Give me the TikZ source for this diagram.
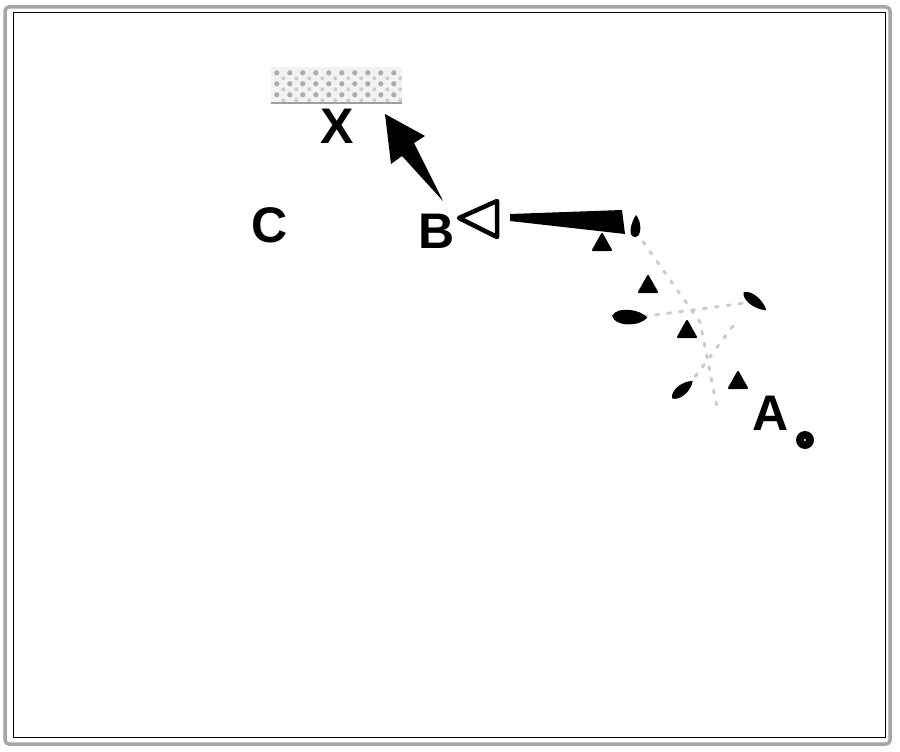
\documentclass[tikz,border=0pt]{standalone}
\usepackage{fontspec}
\setsansfont{Liberation Sans}
\usetikzlibrary{patterns,arrows.meta,calc}
\begin{document}
\begin{tikzpicture}[x=1pt,y=-1pt,
  lbl/.style={font=\sffamily\bfseries\fontsize{50}{50}\selectfont, inner sep=0pt},
  tri/.style={fill=black, draw=black, line width=2pt, line join=round},
  faint/.style={draw=gray!40, line width=3pt, dash pattern=on 3pt off 9pt, line cap=round},
  drop/.style={fill=black}]
\useasboundingbox (0,0) rectangle (900,752);
% frames
\draw[gray!70, line width=3.5pt, rounded corners=4pt] (5,7) rectangle (890,744);
\draw[black, line width=1pt] (13,13) rectangle (885,737);
% ceiling
\node[minimum width=131pt, minimum height=36pt, inner sep=0pt, fill=gray!10] (ceil) at (336.5,85) {};
\begin{scope}
\clip (ceil.south west) rectangle (ceil.north east);
\foreach \i in {0,...,10}{
  \foreach \j in {0,...,3}{
    \fill[gray!65] ($(ceil.north west)+(6+13*\i,6+11*\j)$) circle (2.6pt);
    \fill[gray!40] ($(ceil.north west)+(12.5+13*\i,11.5+11*\j)$) circle (2pt);
  }
}
\end{scope}
\draw[gray!75, line width=2pt] (ceil.south west) -- (ceil.south east);
% labels
\node[lbl] (X) at (337,126) {X};
\node[lbl] (C) at (270,225) {C};
\node[lbl] (B) at (437,231) {B};
\node[lbl] (A) at (771,413) {A};
% arrow B -> ceiling
\coordinate (t1) at (443,201);
\coordinate (h1) at (385,114);
\fill[black, line join=round] (h1) -- (425,136) -- (414,143) -- (t1) -- (402,156) -- (391,164) -- cycle;
% open arrow toward B
\coordinate (h2) at (459,218);
\draw[black, line width=4.5pt, line join=round, fill=white] (h2) -- (497,201) -- (497,237) -- cycle;
\fill[black, line join=round] (510,214) -- (622,210) -- (625,234) -- (510,221) -- cycle;
% faint dotted lines
\coordinate (c0) at (700,322);
\draw[faint] (636,232) -- (c0) -- (718,412);
\draw[faint] (632,318) -- (753,302);
\draw[faint] (688,386) -- (736,322);
% drops
\fill[drop] (636,215) .. controls (642,222) and (642,237) .. (635,237) .. controls (628,237) and (630,224) .. (636,215) -- cycle;
\fill[drop, rotate around={-8:(628,318)}] (612,318) .. controls (616,307) and (640,308) .. (647,315) .. controls (641,325) and (616,329) .. (612,318) -- cycle;
\fill[drop, rotate around={-40:(755,302)}] (740,302) .. controls (744,295) and (760,295) .. (769,301) .. controls (760,308) and (744,309) .. (740,302) -- cycle;
\fill[drop, rotate around={40:(682,390)}] (669,390) .. controls (673,383) and (688,383) .. (696,390) .. controls (688,397) and (673,397) .. (669,390) -- cycle;
% triangles
\foreach \n/\p in {a/{602,243}, b/{648,285}, c/{687,330}, d/{738,381}}{
  \coordinate (T\n) at (\p);
  \draw[tri] ($(T\n)+(0,-9)$) -- ($(T\n)+(9,7)$) -- ($(T\n)+(-9,7)$) -- cycle;
}
% point at A
\node[circle, fill=black, minimum size=18pt, inner sep=0pt] (pA) at (805,440) {};
\fill[white] (pA) circle (1.2pt);
\end{tikzpicture}
\end{document}
